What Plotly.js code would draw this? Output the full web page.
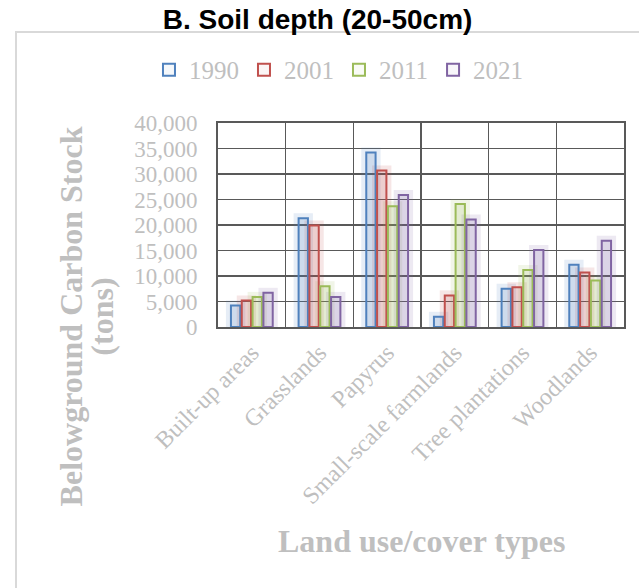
<!DOCTYPE html>
<html>
<head>
<meta charset="utf-8">
<script src="https://cdn.plot.ly/plotly-3.0.1.min.js"></script>
<style>
html,body{margin:0;padding:0;background:#fff;}
#chart{width:639px;height:588px;}
</style>
</head>
<body>
<div id="chart"></div>
<script>
const categories = ['Built-up areas', 'Grasslands', 'Papyrus', 'Small-scale farmlands', 'Tree plantations', 'Woodlands'];
const seriesNames = ['1990', '2001', '2011', '2021'];
const values1990 = [4200, 21300, 34200, 2000, 7500, 12200];
const values2001 = [5200, 19900, 30700, 6200, 7800, 10700];
const values2011 = [5900, 8000, 23700, 24100, 11200, 9100];
const values2021 = [6700, 5900, 25900, 21100, 15100, 16900];
const yTickValues = [0, 5000, 10000, 15000, 20000, 25000, 30000, 35000, 40000];

const seriesValues = [values1990, values2001, values2011, values2021];
const rgb = [[79,129,189],[192,80,77],[155,187,89],[128,100,162]];
const serif = 'Liberation Serif, Times New Roman, serif';
const grey = 'rgb(191,191,191)';

const traces = [];
// soft glow underneath each series
seriesNames.forEach((name, i) => {
  const c = rgb[i].join(',');
  traces.push({
    type: 'bar', x: categories, y: seriesValues[i], name: name,
    offsetgroup: name, showlegend: false, hoverinfo: 'skip',
    marker: {color: 'rgba(' + c + ',0.10)', line: {color: 'rgba(' + c + ',0.14)', width: 10}}
  });
});
seriesNames.forEach((name, i) => {
  const c = rgb[i].join(',');
  traces.push({
    type: 'bar', x: categories, y: seriesValues[i], name: name,
    offsetgroup: name,
    marker: {color: 'rgba(' + c + ',0.06)', line: {color: 'rgb(' + c + ')', width: 2}}
  });
});

const layout = {
  width: 639, height: 588,
  margin: {l: 218, r: 15, t: 123, b: 261, pad: 0},
  paper_bgcolor: '#fff', plot_bgcolor: '#fff',
  barmode: 'group', bargap: 0.36, bargroupgap: 0.14,
  title: {text: '<b>B. Soil depth (20-50cm)</b>', font: {family: 'Liberation Sans, Arial, sans-serif', size: 28, color: '#000'},
          x: 0.497, xref: 'container', y: 0.968, yref: 'container', yanchor: 'middle'},
  showlegend: true,
  legend: {orientation: 'h', x: -0.17, xanchor: 'left', y: 1.26, yanchor: 'middle',
           font: {family: serif, size: 25, color: grey}, traceorder: 'normal', itemclick: false,
           bgcolor: 'rgba(0,0,0,0)'},
  xaxis: {
    type: 'category', tickson: 'boundaries', showgrid: true, gridcolor: '#595959', gridwidth: 1.5,
    showline: true, linecolor: '#595959', linewidth: 2, mirror: true, ticks: '',
    tickangle: -45, tickfont: {family: serif, size: 24, color: grey}, fixedrange: true
  },
  yaxis: {
    range: [0, 40000], tickvals: yTickValues, tickformat: ',d', showgrid: true, gridcolor: '#595959', gridwidth: 1.5,
    zeroline: false, showline: true, linecolor: '#595959', linewidth: 2, mirror: true, ticks: '',
    ticklabelstandoff: 14,
    tickfont: {family: serif, size: 23, color: grey}, fixedrange: true
  },
  annotations: [
    {text: '<b>Belowground Carbon Stock</b>', textangle: -90, xref: 'paper', yref: 'paper', x: -0.362, y: 0.052,
     showarrow: false, font: {family: serif, size: 32, color: grey}, xanchor: 'center', yanchor: 'middle'},
    {text: '<b>(tons)</b>', textangle: -90, xref: 'paper', yref: 'paper', x: -0.285, y: 0.052,
     showarrow: false, font: {family: serif, size: 32, color: grey}, xanchor: 'center', yanchor: 'middle'},
    {text: '<b>Land use/cover types</b>', xref: 'paper', yref: 'paper', x: 0.5, y: -1.05,
     showarrow: false, font: {family: serif, size: 32, color: grey}, xanchor: 'center', yanchor: 'middle'}
  ],
  shapes: [
    {type: 'rect', xref: 'paper', yref: 'paper', x0: -0.4975, x1: 1.3, y0: -1.6, y1: 1.446,
     line: {color: 'rgb(217,217,217)', width: 2}, fillcolor: 'rgba(0,0,0,0)', layer: 'below'}
  ]
};

Plotly.newPlot('chart', traces, layout, {displayModeBar: false, staticPlot: true});
</script>
</body>
</html>
